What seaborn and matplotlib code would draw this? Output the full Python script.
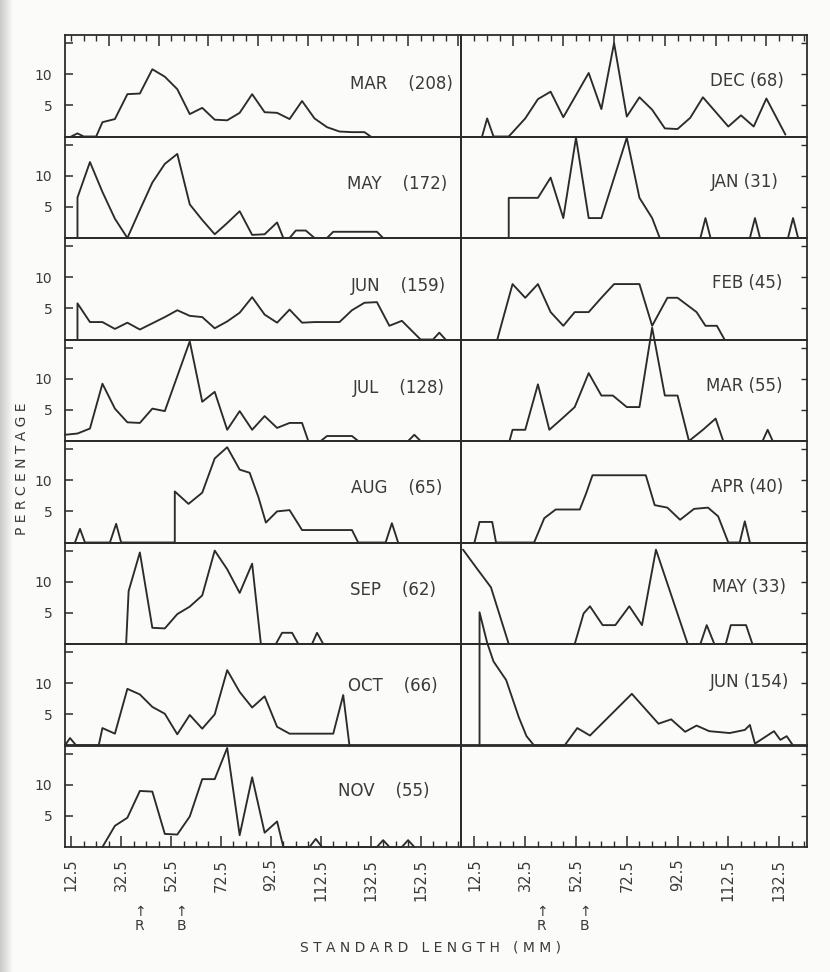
import matplotlib
matplotlib.use("Agg")
import numpy as np
import matplotlib.pyplot as plt
from matplotlib.colors import LinearSegmentedColormap
import seaborn as sns

sns.set_style("white")
plt.rcParams["font.family"] = ["DejaVu Sans"]

# ---------------------------------------------------------------- data
LEFT_MONTHS = ["MAR", "MAY", "JUN", "JUL", "AUG", "SEP", "OCT", "NOV"]
LEFT_N = [208, 172, 159, 128, 65, 62, 66, 55]
RIGHT_MONTHS = ["DEC", "JAN", "FEB", "MAR", "APR", "MAY", "JUN"]
RIGHT_N = [68, 31, 45, 55, 40, 33, 154]

LEFT_TICKS = [12.5, 32.5, 52.5, 72.5, 92.5, 112.5, 132.5, 152.5]
RIGHT_TICKS = [12.5, 32.5, 52.5, 72.5, 92.5, 112.5, 132.5]
Y_TICKS = [5, 10, 15]
Y_TICK_LABELS = ["5", "10", ""]

# left column (first year)
mar1_x = [12.5, 15, 17.5, 22.5, 25, 30, 35, 40, 45, 50, 55, 60, 65, 70, 75, 80, 85, 90, 95, 100, 105, 110, 115, 120, 125, 130, 132.5]
mar1_y = [0, 0.5, 0, 0, 2.3, 2.8, 6.8, 6.9, 10.8, 9.6, 7.6, 3.6, 4.6, 2.7, 2.6, 3.8, 6.8, 3.9, 3.8, 2.8, 5.7, 2.9, 1.5, 0.8, 0.7, 0.7, 0]

may1_x = [15, 15, 20, 25, 30, 35, 40, 45, 50, 55, 60, 65, 70, 75, 80, 85, 90, 95, 97.5, 100, 102.5, 106.5, 110, 115, 117.5, 135, 137.5]
may1_y = [0, 6.5, 12.2, 7.4, 3.1, 0, 4.5, 8.9, 11.9, 13.5, 5.4, 2.9, 0.6, 2.4, 4.3, 0.5, 0.6, 2.5, 0, 0, 1.2, 1.2, 0, 0, 1.0, 1.0, 0]

jun1_x = [15, 15, 20, 25, 30, 35, 40, 45, 50, 55, 60, 65, 70, 75, 80, 85, 90, 95, 100, 105, 110, 115, 120, 125, 130, 135, 140, 145, 152.5, 157.5, 160, 162.5]
jun1_y = [0, 5.8, 2.8, 2.8, 1.7, 2.7, 1.6, 2.6, 3.6, 4.7, 3.8, 3.6, 1.8, 2.9, 4.3, 6.8, 4.0, 2.7, 4.8, 2.7, 2.8, 2.8, 2.8, 4.7, 5.9, 6.0, 2.2, 3.0, 0, 0, 1.1, 0]

jul1_x = [10, 15, 20, 25, 30, 35, 40, 45, 50, 55, 60, 65, 70, 75, 80, 85, 90, 95, 100, 105, 107.5, 112.5, 115, 125, 127.5, 147.5, 150, 152.5]
jul1_y = [1.0, 1.2, 2.0, 9.2, 5.2, 3.0, 2.9, 5.2, 4.8, 10.4, 16.0, 6.3, 7.9, 1.8, 4.8, 1.8, 4.0, 2.1, 2.9, 2.9, 0, 0, 0.8, 0.8, 0, 0, 1.0, 0]

aug1_x = [14, 16, 18, 28, 30.5, 32.5, 54, 54, 59.5, 65, 70, 75, 80, 84, 87.5, 90.5, 95, 100, 105, 125, 127.5, 138.5, 141, 143.5]
aug1_y = [0, 2.2, 0, 0, 3.0, 0, 0, 8.2, 6.2, 8.0, 13.5, 15.3, 11.7, 11.2, 7.3, 3.2, 5.0, 5.2, 2.0, 2.0, 0, 0, 3.1, 0]

sep1_x = [34.5, 35.5, 40, 45, 50, 55, 60, 65, 70, 75, 80, 85, 88.5, 94.5, 97, 101, 103.5, 109, 111, 113.5]
sep1_y = [0, 8.5, 14.7, 2.6, 2.5, 4.8, 6.0, 7.8, 15.0, 12.0, 8.2, 12.9, 0, 0, 1.8, 1.8, 0, 0, 1.8, 0]

oct1_x = [10, 12, 14.5, 23.5, 25, 30, 35, 40, 45, 50, 55, 60, 65, 70, 75, 80, 85, 90, 95, 100, 117.5, 121.5, 124]
oct1_y = [0, 1.2, 0, 0, 2.8, 1.9, 9.1, 8.2, 6.2, 5.1, 1.8, 4.9, 2.7, 5.0, 12.1, 8.6, 6.1, 7.9, 3.0, 1.9, 1.9, 8.1, 0]

nov1_x = [25, 30, 35, 40, 45, 50, 55, 60, 65, 70, 75, 80, 85, 90, 95, 97.5, 108, 110.5, 113, 135, 137.5, 140, 145, 147.5, 150]
nov1_y = [0, 3.4, 4.7, 9.0, 8.9, 2.1, 2.0, 4.9, 10.9, 10.9, 15.9, 1.9, 11.2, 2.3, 4.1, 0, 0, 1.3, 0, 0, 1.1, 0, 0, 1.1, 0]

# right column (second year)
dec_x = [15.5, 17.5, 20, 26, 32.5, 37.5, 42.5, 47.5, 57.5, 62.5, 67.5, 72.5, 77.5, 82.5, 87.5, 92.5, 97.5, 102.5, 112.5, 117.5, 122.5, 127.5, 135]
dec_y = [0, 2.9, 0, 0, 2.9, 6.0, 7.2, 3.1, 10.2, 4.4, 15.0, 3.2, 6.3, 4.3, 1.3, 1.2, 3.0, 6.3, 1.6, 3.4, 1.6, 6.1, 0.3]

jan_x = [26, 26, 37.5, 42.5, 47.5, 52.5, 57.5, 62.5, 72.5, 77.5, 82.5, 85.5, 101.5, 103.5, 105.5, 121, 123, 125, 136, 138, 140]
jan_y = [0, 6.45, 6.45, 9.7, 3.2, 16.1, 3.2, 3.2, 16.1, 6.45, 3.2, 0, 0, 3.2, 0, 0, 3.2, 0, 0, 3.2, 0]

feb_x = [21.5, 27.5, 32.5, 37.5, 42.5, 47.5, 52, 57.5, 62.5, 67.5, 77.5, 82.5, 88.5, 92.5, 100, 103.5, 108, 111]
feb_y = [0, 8.9, 6.7, 8.9, 4.4, 2.2, 4.4, 4.4, 6.7, 8.9, 8.9, 2.2, 6.7, 6.7, 4.4, 2.2, 2.2, 0]

mar2_x = [26.3, 27.5, 32.5, 37.5, 42, 47, 52, 57.5, 62.5, 67, 72.5, 77.5, 82.5, 87.5, 92.5, 97, 102.5, 107.5, 110.5, 126, 128, 130]
mar2_y = [0, 1.8, 1.8, 9.1, 1.8, 3.6, 5.45, 10.9, 7.3, 7.3, 5.45, 5.45, 18.2, 7.3, 7.3, 0, 1.8, 3.6, 0, 0, 1.8, 0]

apr_x = [12.5, 14.5, 19.5, 21, 36, 40, 44.5, 54, 56.5, 59, 80, 83.5, 88.5, 93.5, 99, 104.5, 108.5, 112.5, 117, 119, 121]
apr_y = [0, 3.3, 3.3, 0, 0, 3.9, 5.3, 5.3, 7.9, 10.8, 10.8, 6.0, 5.6, 3.65, 5.4, 5.6, 4.2, 0, 0, 3.4, 0]

may2_x = [8, 13.5, 19, 26, 52, 55.5, 58, 63, 68, 73.5, 78.5, 84, 96.5, 101.5, 104, 107, 111.5, 113.5, 119.5, 122]
may2_y = [15.15, 12.1, 9.1, 0, 0, 4.9, 6.06, 3.03, 3.03, 6.06, 3.03, 15.15, 0, 0, 3.03, 0, 0, 3.03, 3.03, 0]

jun2_x = [14.5, 14.5, 17.5, 20, 25, 30, 33, 36, 48, 53, 58, 74.5, 85, 90, 95.5, 100, 105, 113, 119, 121, 123, 130.5, 133, 135.5, 138]
jun2_y = [0, 21.4, 16.5, 13.5, 10.5, 4.5, 1.5, 0, 0, 2.8, 1.6, 8.3, 3.5, 4.2, 2.2, 3.2, 2.3, 2.0, 2.5, 3.3, 0.3, 2.3, 0.9, 1.5, 0]

LEFT_SERIES = [(mar1_x, mar1_y), (may1_x, may1_y), (jun1_x, jun1_y), (jul1_x, jul1_y),
               (aug1_x, aug1_y), (sep1_x, sep1_y), (oct1_x, oct1_y), (nov1_x, nov1_y)]
RIGHT_SERIES = [(dec_x, dec_y), (jan_x, jan_y), (feb_x, feb_y), (mar2_x, mar2_y),
                (apr_x, apr_y), (may2_x, may2_y), (jun2_x, jun2_y)]

# ---------------------------------------------------------------- layout
W, H = 830.0, 972.0
X0, XD, X1 = 65.0, 460.5, 807.0
Y0, Y1 = 35.0, 847.0
NR = 8
RH = (Y1 - Y0) / NR
XLIMS = [(10.0, 168.5), (7.0, 143.5)]
YMAX = 16.3
INK = "#2b2b2b"
TXT = "#3a3a3a"
BG = "#fbfbf9"

LEFT_GAP = [8, 13, 15, 16, 18, 25, 23, 31]
LEFT_YF = [0.53, 0.54, 0.535, 0.53, 0.55, 0.54, 0.60, 0.56]
RIGHT_GAP = [23, 28, 25, 24, 24, 21, 18]
RIGHT_YF = [0.56, 0.565, 0.567, 0.55, 0.56, 0.57, 0.635]

fig = plt.figure(figsize=(8.3, 9.72), dpi=100)
fig.patch.set_facecolor(BG)

# faint scanner shadow along the left edge
sh = fig.add_axes([0, 0, 12 / W, 1], zorder=-5)
sh.imshow(np.linspace(0, 1, 40)[None, :], aspect="auto", extent=[0, 1, 0, 1],
          cmap=LinearSegmentedColormap.from_list("sh", ["#c9c9c7", BG]))
sh.axis("off")

axes = [[None] * NR for _ in range(2)]
for col in range(2):
    xa, xb = (X0, XD) if col == 0 else (XD, X1)
    wpx = xb - xa
    series = LEFT_SERIES if col == 0 else RIGHT_SERIES
    months = LEFT_MONTHS if col == 0 else RIGHT_MONTHS
    counts = LEFT_N if col == 0 else RIGHT_N
    for r in range(NR):
        top = Y0 + r * RH
        ax = fig.add_axes([xa / W, 1 - (top + RH) / H, wpx / W, RH / H])
        ax.set_facecolor("none")
        axes[col][r] = ax
        if r < len(series):
            xs, ys = series[r]
            sns.lineplot(x=xs, y=ys, ax=ax, sort=False, estimator=None,
                         color=INK, linewidth=1.35, legend=False)
            for ln in ax.lines:
                ln.set_clip_on(False)
                ln.set_zorder(3)
            if col == 0:
                lab = f"{months[r]}    ({counts[r]})"
                gap, yf = LEFT_GAP[r], LEFT_YF[r]
            else:
                lab = f"{months[r]} ({counts[r]})"
                gap, yf = RIGHT_GAP[r], RIGHT_YF[r]
            ax.text(1 - gap / wpx, yf - 6.0 / RH, lab, transform=ax.transAxes,
                    ha="right", va="baseline", fontsize=12, color=TXT)
        ax.set_xlim(*XLIMS[col])
        ax.set_ylim(0, YMAX)
        ax.set_xlabel("")
        ax.set_ylabel("")
        for s in ax.spines.values():
            s.set_linewidth(1.3)
            s.set_color(INK)

        # y ticks
        ax.set_yticks(Y_TICKS)
        if col == 0:
            ax.yaxis.set_ticks_position("left")
            ax.set_yticklabels(Y_TICK_LABELS)
            ax.tick_params(axis="y", direction="in", length=6, width=1.1, pad=9,
                           labelsize=10, labelcolor=TXT, color=INK)
        else:
            ax.yaxis.set_ticks_position("right")
            ax.tick_params(axis="y", direction="in", length=4, width=1.0,
                           labelright=False, labelleft=False, color=INK)

        # x ticks
        xmin, xmax = XLIMS[col]
        ticks = LEFT_TICKS if col == 0 else RIGHT_TICKS
        minor = [v for v in np.arange(12.5, xmax, 5.0)]
        if r == NR - 1:
            ax.xaxis.set_ticks_position("bottom")
            ax.set_xticks(ticks)
            ax.set_xticklabels([f"{t:g}" for t in ticks], rotation=90)
            ax.set_xticks(minor, minor=True)
            ax.tick_params(axis="x", which="major", direction="in", length=8, width=1.1,
                           pad=8.5, labelsize=10.5, labelcolor=TXT, color=INK)
            ax.tick_params(axis="x", which="minor", direction="in", length=4.5,
                           width=1.0, color=INK)
        elif r == 0:
            ax.xaxis.set_ticks_position("top")
            tmaj = [v for v in np.arange(7.5, xmax, 20.0) if v > xmin + 1]
            ax.set_xticks(tmaj)
            ax.set_xticklabels([])
            ax.set_xticks(minor, minor=True)
            ax.tick_params(axis="x", which="both", direction="in", top=True, bottom=False,
                           labeltop=False, labelbottom=False, color=INK)
            ax.tick_params(axis="x", which="major", length=8, width=1.1)
            ax.tick_params(axis="x", which="minor", length=4.5, width=1.0)
        else:
            ax.set_xticks([])

# R / B markers under the bottom axes
MARKS = [[("R", 40.0), ("B", 56.5)], [("R", 39.0), ("B", 56.0)]]
for col in range(2):
    axb = axes[col][NR - 1]
    for letter, xv in MARKS[col]:
        axb.annotate("\u2191", xy=(xv, 0), xycoords=("data", "axes fraction"),
                     xytext=(0, -47), textcoords="offset points", ha="center",
                     va="center", fontsize=10, color=TXT, annotation_clip=False)
        axb.annotate(letter, xy=(xv, 0), xycoords=("data", "axes fraction"),
                     xytext=(0, -57), textcoords="offset points", ha="center",
                     va="center", fontsize=10, color=TXT, annotation_clip=False)

fig.text(22 / W, 1 - 469 / H, " ".join("PERCENTAGE"), rotation=90,
         ha="center", va="center", fontsize=10, color=TXT)
fig.text(430 / W, 1 - 947 / H, " ".join("STANDARD LENGTH (MM)"),
         ha="center", va="center", fontsize=10, color=TXT)

fig.savefig("out.png", dpi=100, facecolor=fig.get_facecolor())
